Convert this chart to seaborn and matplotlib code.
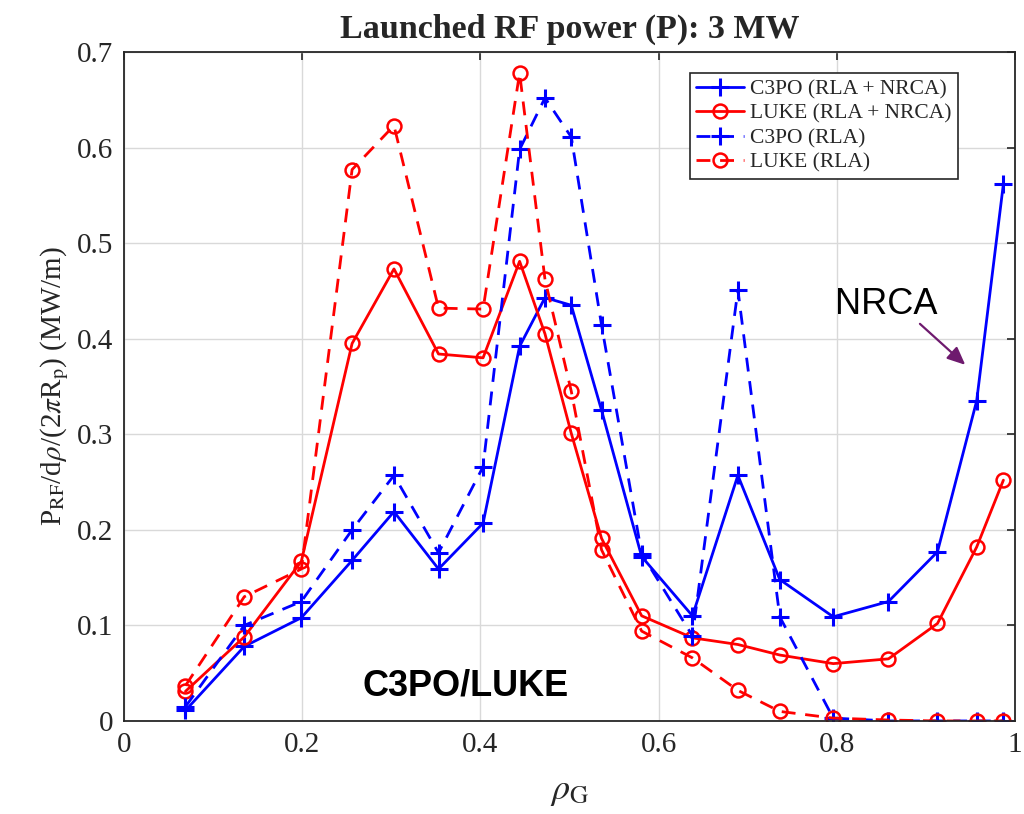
import matplotlib
matplotlib.use("Agg")
import matplotlib.pyplot as plt
import pandas as pd
import seaborn as sns

# Data
rho = [0.069, 0.135, 0.199, 0.256, 0.303, 0.353, 0.403, 0.444, 0.4725, 0.502,
       0.536, 0.581, 0.638, 0.689, 0.736, 0.796, 0.858, 0.913, 0.957, 0.987]
c3po_full = [0.011, 0.078, 0.108, 0.168, 0.219, 0.159, 0.207, 0.392, 0.443, 0.435,
             0.325, 0.172, 0.110, 0.257, 0.148, 0.109, 0.125, 0.177, 0.335, 0.562]
luke_full = [0.031, 0.088, 0.167, 0.395, 0.473, 0.384, 0.380, 0.481, 0.405, 0.301,
             0.191, 0.110, 0.087, 0.080, 0.069, 0.060, 0.065, 0.102, 0.182, 0.252]
c3po_rla = [0.015, 0.100, 0.125, 0.200, 0.257, 0.176, 0.266, 0.598, 0.652, 0.611,
            0.414, 0.175, 0.089, 0.451, 0.109, 0.003, 0.0, 0.0, 0.0, 0.0]
luke_rla = [0.037, 0.130, 0.159, 0.577, 0.623, 0.432, 0.431, 0.678, 0.462, 0.345,
            0.179, 0.094, 0.066, 0.032, 0.010, 0.003, 0.001, 0.0, 0.0, 0.0]

labels = ["C3PO (RLA + NRCA)", "LUKE (RLA + NRCA)", "C3PO (RLA)", "LUKE (RLA)"]
xticks = [0, 0.2, 0.4, 0.6, 0.8, 1]
yticks = [0, 0.1, 0.2, 0.3, 0.4, 0.5, 0.6, 0.7]

df = pd.DataFrame({"rho": rho, labels[0]: c3po_full, labels[1]: luke_full,
                   labels[2]: c3po_rla, labels[3]: luke_rla})

sns.set_theme(style="white")
plt.rcParams["font.family"] = ["Liberation Serif", "DejaVu Serif"]
plt.rcParams["mathtext.fontset"] = "stix"
plt.rcParams["xtick.direction"] = "in"
plt.rcParams["ytick.direction"] = "in"

fig, ax = plt.subplots(figsize=(10.24, 8.14), dpi=100)
fig.subplots_adjust(left=0.1211, right=0.9912, bottom=0.1143, top=0.9361)

blue, red = "#0000ff", "#ff0000"
dash = (0, (5, 3.5))
styles = [
    dict(color=blue, marker="+", linestyle="-", markersize=13, markeredgewidth=2.2,
         markeredgecolor=blue),
    dict(color=red, marker="o", linestyle="-", markersize=10, markeredgewidth=1.8,
         markerfacecolor="none", markeredgecolor=red),
    dict(color=blue, marker="+", linestyle=dash, markersize=13, markeredgewidth=2.2,
         markeredgecolor=blue),
    dict(color=red, marker="o", linestyle=dash, markersize=10, markeredgewidth=1.8,
         markerfacecolor="none", markeredgecolor=red),
]
for lab, st in zip(labels, styles):
    sns.lineplot(data=df, x="rho", y=lab, ax=ax, linewidth=2.0, legend=False, **st)

ax.set_xlim(0, 1)
ax.set_ylim(0, 0.7)
ax.set_xticks(xticks)
ax.set_xticklabels(["0", "0.2", "0.4", "0.6", "0.8", "1"])
ax.set_yticks(yticks)
ax.set_yticklabels(["0", "0.1", "0.2", "0.3", "0.4", "0.5", "0.6", "0.7"])
ax.tick_params(labelsize=21, length=6, width=1.2, color="#262626",
               top=True, right=True, pad=8)
ax.grid(True, color="#d9d9d9", linewidth=1.0)
for sp in ax.spines.values():
    sp.set_color("#262626")
    sp.set_linewidth(1.3)

ax.set_xlabel(r"$\rho_{\rm G}$", fontsize=26, labelpad=12)
ax.set_ylabel(r"P$_{\rm RF}$/d$\rho$/(2$\pi$R$_{\rm p}$) (MW/m)", fontsize=21, labelpad=4)
ax.set_title("Launched RF power (P): 3 MW", fontsize=24.5, fontweight="bold", pad=10)

handles = ax.get_lines()[:4]
leg = ax.legend(handles, labels, loc="upper right", bbox_to_anchor=(0.936, 0.9686),
                borderaxespad=0, fontsize=15.5, handlelength=2.2, labelspacing=0.2,
                fancybox=False, framealpha=1, edgecolor="#262626", borderpad=0.3,
                handletextpad=0.3)
leg.get_frame().set_linewidth(1.2)

ax.text(0.268, 0.027, "C3PO/LUKE", fontsize=26, fontweight="bold",
        family="Liberation Sans", va="baseline", ha="left", color="black")
ax.text(0.798, 0.426, "NRCA", fontsize=26, family="Liberation Sans",
        va="baseline", ha="left", color="black")
ax.annotate("", xy=(0.9465, 0.3707), xytext=(0.891, 0.4175),
            arrowprops=dict(arrowstyle="-|>,head_length=0.9,head_width=0.4",
                            color="#6e1a6e", lw=1.6))

fig.savefig("out.png", dpi=100)
